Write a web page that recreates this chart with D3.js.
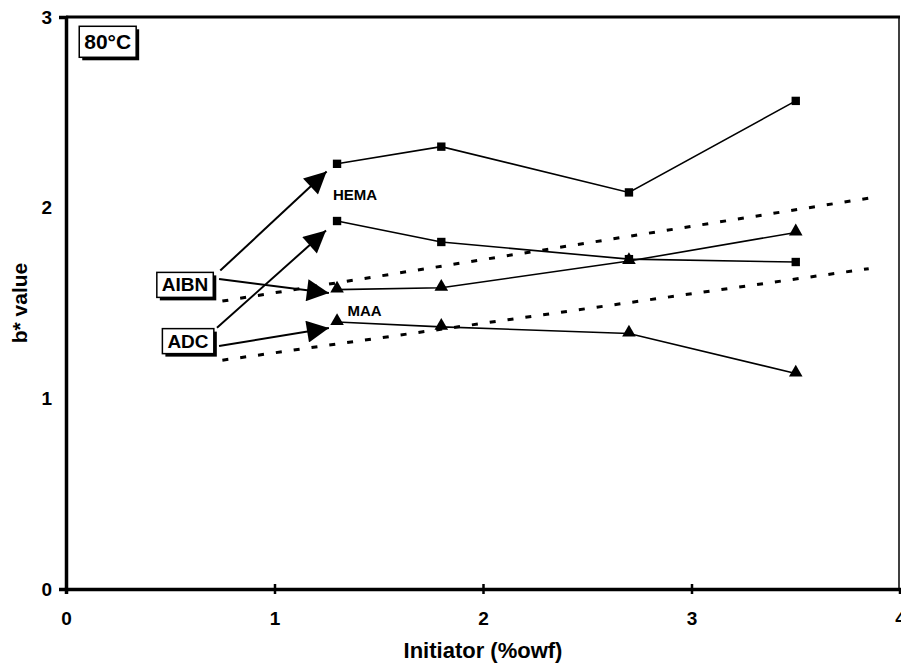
<!DOCTYPE html>
<html>
<head>
<meta charset="utf-8">
<script src="https://cdn.jsdelivr.net/npm/d3@7"></script>
<style>
  body { margin: 0; background: #fff; }
  svg { font-family: "Liberation Sans", Arial, sans-serif; font-weight: bold; }
</style>
</head>
<body>
<div id="container"></div>
<script>
// initiator levels (%owf)
const initiator = [1.3, 1.8, 2.7, 3.5];

// b* values per series
const hemaADC  = [2.23, 2.32, 2.08, 2.56];
const hemaAIBN = [1.93, 1.82, 1.73, 1.715];
const maaAIBN  = [1.57, 1.58, 1.72, 1.87];
const maaADC   = [1.40, 1.375, 1.34, 1.13];

// dotted trend lines (start / end)
const trendX    = [0.75, 3.85];
const trendUpper = [1.51, 2.05];
const trendLower = [1.20, 1.68];

const xTicks = [0, 1, 2, 3, 4];
const yTicks = [0, 1, 2, 3];

// annotation arrows [x1, y1, x2, y2] in data units
const arrows = [
  [0.74, 1.67, 1.25, 2.19],
  [0.724, 1.37, 1.247, 1.88],
  [0.734, 1.626, 1.261, 1.552],
  [0.734, 1.274, 1.261, 1.369]
];

const width = 901, height = 668;
const margin = {top: 17, right: 1, bottom: 79, left: 66};
const fontFam = '"Liberation Sans", Arial, sans-serif';

const svg = d3.select('#container')
  .append('svg')
  .attr('width', width)
  .attr('height', height);

const xScale = d3.scaleLinear()
  .domain([0, 4])
  .range([margin.left, width - margin.right]);

const yScale = d3.scaleLinear()
  .domain([0, 3])
  .range([height - margin.bottom, margin.top]);

//frame top and right
svg.append('line')
  .attr('x1', xScale(0)).attr('x2', xScale(4))
  .attr('y1', yScale(3)).attr('y2', yScale(3))
  .style('stroke', '#000').style('stroke-width', 3);
svg.append('line')
  .attr('x1', xScale(4) - 1).attr('x2', xScale(4) - 1)
  .attr('y1', yScale(3)).attr('y2', yScale(0))
  .style('stroke', '#000').style('stroke-width', 1.5);

//x axis
const xAxis = svg.append('g')
  .attr('transform', `translate(0, ${yScale(0)})`)
  .call(d3.axisBottom(xScale).tickValues(xTicks).tickFormat(d3.format('d')).tickSizeOuter(0).tickSize(5).tickPadding(18));
xAxis.select('.domain').style('stroke-width', 3.5);
xAxis.selectAll('.tick line').attr('y1', -5).style('stroke-width', 2.5);
xAxis.selectAll('.tick text').style('font-size', '19px').style('font-weight', 'bold').style('font-family', fontFam);
xAxis.selectAll('.tick').filter(d => d === 0 || d === 4).select('line').remove();

//y axis
const yAxis = svg.append('g')
  .attr('transform', `translate(${xScale(0)}, 0)`)
  .call(d3.axisLeft(yScale).tickValues(yTicks).tickFormat(d3.format('d')).tickSizeOuter(0).tickSize(7).tickPadding(7));
yAxis.select('.domain').style('stroke-width', 3.5);
yAxis.selectAll('.tick line').attr('x2', 2).style('stroke-width', 2.5);
yAxis.selectAll('.tick text').style('font-size', '19px').style('font-weight', 'bold').style('font-family', fontFam);

//axis titles
svg.append('text')
  .attr('x', xScale(2))
  .attr('y', 658)
  .attr('text-anchor', 'middle')
  .style('font-size', '22px')
  .text('Initiator (%owf)');

svg.append('text')
  .attr('transform', `translate(27, ${yScale(1.5)}) rotate(-90)`)
  .attr('text-anchor', 'middle')
  .style('font-size', '21px')
  .text('b* value');

//dotted trend lines
[trendUpper, trendLower].forEach(t => {
  svg.append('line')
    .attr('x1', xScale(trendX[0])).attr('y1', yScale(t[0]))
    .attr('x2', xScale(trendX[1])).attr('y2', yScale(t[1]))
    .style('stroke', '#000')
    .style('stroke-width', 3)
    .style('stroke-dasharray', '6,12');
});

const line = d3.line()
  .x(d => xScale(d[0]))
  .y(d => yScale(d[1]));

const series = [
  {values: hemaADC, marker: 'square'},
  {values: hemaAIBN, marker: 'square'},
  {values: maaAIBN, marker: 'triangle'},
  {values: maaADC, marker: 'triangle'}
];

series.forEach(s => {
  const pts = initiator.map((x, i) => [x, s.values[i]]);
  svg.append('path')
    .datum(pts)
    .attr('d', line)
    .style('fill', 'none')
    .style('stroke', '#000')
    .style('stroke-width', 1.6);

  const sym = d3.symbol()
    .type(s.marker === 'square' ? d3.symbolSquare : d3.symbolTriangle)
    .size(s.marker === 'square' ? 70 : 80);

  svg.selectAll(null)
    .data(pts)
    .enter()
    .append('path')
    .attr('d', sym)
    .attr('transform', d => `translate(${xScale(d[0])}, ${yScale(d[1]) - (s.marker === 'triangle' ? 1 : 0)})`)
    .style('fill', '#000');
});

//arrows
svg.append('defs')
  .append('marker')
  .attr('id', 'arrowhead')
  .attr('viewBox', '0 0 10 10')
  .attr('refX', 10)
  .attr('refY', 5)
  .attr('markerUnits', 'userSpaceOnUse')
  .attr('markerWidth', 26)
  .attr('markerHeight', 22)
  .attr('orient', 'auto')
  .append('path')
  .attr('d', 'M0,0 L10,5 L0,10 Z')
  .style('fill', '#000');

svg.selectAll('.arrow')
  .data(arrows)
  .enter()
  .append('line')
  .attr('class', 'arrow')
  .attr('x1', d => xScale(d[0]))
  .attr('y1', d => yScale(d[1]))
  .attr('x2', d => xScale(d[2]))
  .attr('y2', d => yScale(d[3]))
  .style('stroke', '#000')
  .style('stroke-width', 2)
  .attr('marker-end', 'url(#arrowhead)');

//boxed labels
const boxLabel = (txt, cx, cy, size, padY) => {
  const g = svg.append('g');
  const t = g.append('text')
    .attr('x', cx)
    .attr('y', cy)
    .attr('text-anchor', 'middle')
    .attr('dominant-baseline', 'central')
    .style('font-size', size)
    .text(txt);
  const b = t.node().getBBox();
  const padX = 5;
  g.insert('rect', 'text')
    .attr('x', b.x - padX + 3)
    .attr('y', b.y - padY + 3)
    .attr('width', b.width + padX * 2)
    .attr('height', b.height + padY * 2)
    .style('fill', '#000');
  g.insert('rect', 'text')
    .attr('x', b.x - padX)
    .attr('y', b.y - padY)
    .attr('width', b.width + padX * 2)
    .attr('height', b.height + padY * 2)
    .style('fill', '#fff')
    .style('stroke', '#000')
    .style('stroke-width', 1.5);
};

boxLabel('80°C', xScale(0.2), yScale(2.87), '21px', 4);
boxLabel('AIBN', xScale(0.571), yScale(1.595), '19px', 2);
boxLabel('ADC', xScale(0.585), yScale(1.3), '19px', 2);

//series labels
svg.append('text')
  .attr('x', xScale(1.28))
  .attr('y', yScale(2.04))
  .style('font-size', '15px')
  .text('HEMA');

svg.append('text')
  .attr('x', xScale(1.35))
  .attr('y', yScale(1.43))
  .style('font-size', '15px')
  .text('MAA');
</script>
</body>
</html>
